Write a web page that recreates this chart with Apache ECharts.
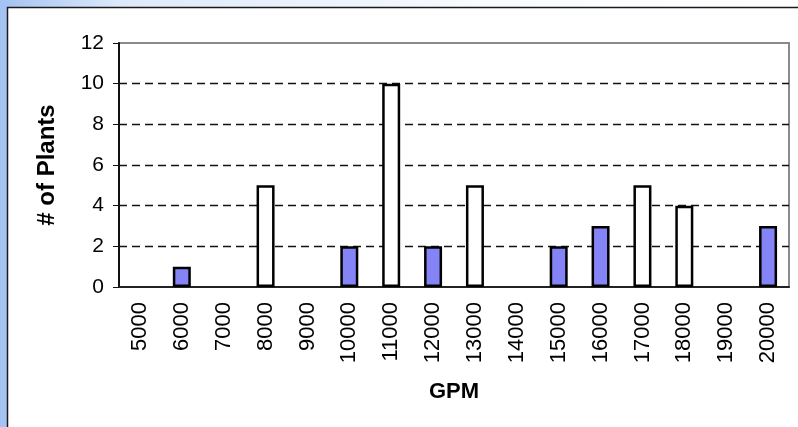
<!DOCTYPE html>
<html>
<head>
<meta charset="utf-8">
<script src="https://cdn.jsdelivr.net/npm/echarts@6/dist/echarts.min.js"></script>
<style>
  html, body { margin: 0; padding: 0; background: #fff; }
  #chart { width: 798px; height: 427px; }
</style>
</head>
<body>
<div id="chart"></div>
<script>
// Flow-rate bins (gallons per minute)
const gpmBins = ['5000', '6000', '7000', '8000', '9000', '10000', '11000', '12000',
                 '13000', '14000', '15000', '16000', '17000', '18000', '19000', '20000'];
// Plant counts, split into the two groups shown (outlined and shaded)
const outlinedCounts = [null, null, null, 5, null, null, 10, null, 5, null, null, null, 5, 4, null, null];
const shadedCounts   = [null, 1, null, null, null, 2, null, 2, null, null, 2, 3, null, null, null, 3];
const yTicks = { min: 0, max: 12, step: 2 };

const chart = echarts.init(document.getElementById('chart'), null, { renderer: 'canvas' });

const font = '"Liberation Sans", Arial, sans-serif';

chart.setOption({
  animation: false,
  backgroundColor: '#ffffff',
  graphic: [
    {
      type: 'rect', z: -10, silent: true,
      shape: { x: 0, y: 0, width: 798, height: 427 },
      style: {
        fill: new echarts.graphic.LinearGradient(0, 0, 1, 0, [
          { offset: 0, color: '#a3c2f2' },
          { offset: 0.15, color: '#dde9fa' },
          { offset: 0.6, color: '#f8fbff' },
          { offset: 1, color: '#ffffff' }
        ])
      }
    },
    {
      type: 'rect', z: -9, silent: true,
      shape: { x: 7, y: 7, width: 791, height: 420 },
      style: { fill: '#ffffff' }
    },
    {
      type: 'polyline', z: -8, silent: true,
      shape: { points: [[7.5, 427], [7.5, 7.5], [798, 7.5]] },
      style: { stroke: '#1a1a1a', lineWidth: 1.5, fill: null }
    }
  ],
  grid: {
    left: 119, top: 43, right: 9, bottom: 140,
    show: true, borderColor: '#8a8a8a', borderWidth: 2, backgroundColor: 'transparent'
  },
  xAxis: {
    type: 'category',
    data: gpmBins,
    name: 'GPM',
    nameLocation: 'middle',
    nameGap: 94,
    nameTextStyle: { fontFamily: font, fontWeight: 'bold', fontSize: 22, color: '#000' },
    axisLine: { lineStyle: { color: '#222', width: 2 } },
    axisTick: { alignWithLabel: false, length: 6, lineStyle: { color: '#222', width: 1 } },
    axisLabel: { rotate: 90, margin: 15, fontFamily: font, fontSize: 22, color: '#000', interval: 0 },
    splitLine: { show: false }
  },
  yAxis: {
    type: 'value',
    min: yTicks.min, max: yTicks.max, interval: yTicks.step,
    name: '# of Plants',
    nameLocation: 'middle',
    nameGap: 60,
    nameTextStyle: { fontFamily: font, fontWeight: 'bold', fontSize: 24, color: '#000' },
    axisLine: { show: true, lineStyle: { color: '#111', width: 2 } },
    axisTick: { show: true, length: 6, lineStyle: { color: '#111', width: 1 } },
    axisLabel: { margin: 15, fontFamily: font, fontSize: 21, color: '#000' },
    splitLine: {
      show: true, showMinLine: false, showMaxLine: false,
      lineStyle: { color: '#111', width: 1.3, type: [8, 5] }
    }
  },
  series: [
    {
      type: 'bar', name: 'outlined',
      data: outlinedCounts,
      barWidth: 18, barGap: '-100%',
      itemStyle: { color: '#ffffff', borderColor: '#000', borderWidth: 2.5 }
    },
    {
      type: 'bar', name: 'shaded',
      data: shadedCounts,
      barWidth: 18,
      itemStyle: { color: '#8484f6', borderColor: '#000', borderWidth: 2.5 }
    }
  ]
});
</script>
</body>
</html>
